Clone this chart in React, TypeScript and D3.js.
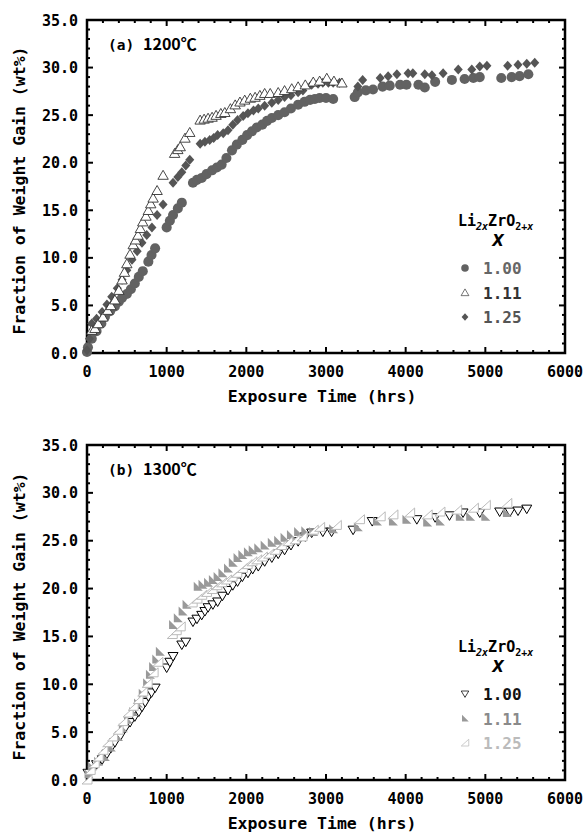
import React from "react";
import * as d3 from "d3";

// ---------- data (hrs, wt%) ----------
const a100: [number, number][] = [[0,0.1],[12,0.6],[60,1.5],[120,2.3],[180,3.1],[225,3.8],[290,4.4],[350,4.9],[400,5.4],[440,5.8],[500,6.2],[550,6.7],[600,7.3],[650,8.0],[700,8.6],[770,9.6],[810,10.3],[855,11.0],[1000,13.2],[1040,13.9],[1080,14.5],[1140,15.2],[1190,15.8],[1330,17.9],[1380,18.2],[1440,18.4],[1500,18.8],[1570,19.2],[1630,19.5],[1690,19.8],[1750,20.5],[1820,21.3],[1880,21.9],[1950,22.4],[2010,22.9],[2070,23.3],[2130,23.7],[2200,24.0],[2260,24.4],[2320,24.7],[2400,25.0],[2480,25.3],[2560,25.7],[2650,26.1],[2730,26.4],[2800,26.6],[2860,26.7],[2920,26.8],[3000,26.8],[3090,26.7],[3360,26.9],[3400,27.4],[3500,27.6],[3590,27.7],[3710,28.0],[3800,28.1],[3930,28.2],[4010,28.2],[4160,28.2],[4240,27.9],[4370,28.5],[4580,28.7],[4740,28.8],[4850,28.9],[4930,29.0],[5200,28.9],[5330,29.0],[5430,29.1],[5540,29.3]];
const a111: [number, number][] = [[60,2.4],[100,2.6],[140,3.1],[200,3.8],[260,4.5],[300,5.0],[350,5.6],[400,6.6],[440,7.7],[470,8.5],[500,9.4],[540,10.4],[580,11.4],[610,11.9],[640,12.4],[670,13.1],[700,13.8],[740,14.4],[770,15.0],[800,15.7],[830,16.3],[880,17.1],[955,18.7],[1100,21.0],[1140,21.4],[1170,21.7],[1230,22.6],[1290,23.2],[1420,24.5],[1470,24.6],[1520,24.7],[1570,24.8],[1620,25.0],[1680,25.2],[1730,25.3],[1800,25.7],[1860,26.1],[1920,26.4],[1980,26.6],[2050,26.8],[2110,26.9],[2170,27.1],[2230,27.3],[2300,27.3],[2400,27.4],[2480,27.6],[2570,27.8],[2650,28.0],[2740,28.2],[2840,28.5],[2920,28.6],[3010,28.9],[3100,28.6],[3200,28.4]];
const a125: [number, number][] = [[0,0.3],[30,1.5],[60,3.1],[120,3.6],[190,4.3],[250,5.1],[310,5.9],[380,6.8],[440,7.7],[500,8.7],[565,9.8],[630,10.7],[690,11.6],[750,12.4],[815,13.2],[880,14.5],[955,15.6],[1080,17.9],[1140,18.5],[1190,19.0],[1240,19.7],[1290,20.3],[1420,22.0],[1480,22.2],[1540,22.4],[1590,22.6],[1640,22.9],[1710,23.1],[1770,23.4],[1830,24.0],[1890,24.5],[1960,24.9],[2020,25.2],[2090,25.5],[2150,25.7],[2230,26.0],[2320,26.3],[2400,26.6],[2480,26.9],[2560,27.1],[2650,27.4],[2710,27.6],[2820,28.2],[2900,28.3],[2960,28.4],[3030,28.4],[3090,28.4],[3170,28.4],[3400,28.0],[3460,28.7],[3680,28.9],[3780,29.1],[3890,29.3],[4030,29.4],[4090,29.4],[4240,29.3],[4330,29.2],[4470,29.4],[4660,29.8],[4830,29.8],[4930,30.1],[5020,30.2],[5280,30.2],[5410,30.3],[5520,30.4],[5620,30.5]];

const b100: [number, number][] = [[12,0.7],[60,1.1],[120,1.6],[190,2.1],[250,2.7],[300,3.3],[350,3.9],[420,4.6],[480,5.4],[540,6.0],[600,6.6],[650,7.1],[690,7.6],[730,8.1],[770,8.7],[810,9.1],[855,9.6],[1000,11.7],[1040,12.3],[1080,12.9],[1190,14.1],[1240,14.4],[1330,16.5],[1380,16.8],[1440,17.2],[1480,17.6],[1520,18.0],[1580,18.3],[1640,18.6],[1700,19.2],[1770,19.8],[1830,20.3],[1890,20.7],[1950,21.2],[2020,21.6],[2080,22.0],[2150,22.3],[2230,22.8],[2320,23.2],[2400,23.6],[2480,24.0],[2560,24.5],[2650,24.9],[2740,25.4],[2820,25.8],[2960,25.9],[3070,25.9],[3340,26.1],[3580,27.0],[4140,27.2],[4370,27.4],[4550,27.6],[4720,27.9],[4930,27.9],[5180,28.0],[5310,28.0],[5410,28.1],[5520,28.3]];
const b111: [number, number][] = [[20,0.6],[60,1.4],[140,1.9],[225,2.4],[300,3.4],[390,4.5],[450,5.4],[515,6.3],[580,7.1],[640,8.0],[700,9.0],[755,10.1],[790,11.0],[830,11.8],[870,12.6],[915,13.4],[1080,16.2],[1140,16.9],[1200,17.6],[1250,18.3],[1390,20.2],[1450,20.4],[1520,20.6],[1580,20.9],[1640,21.2],[1700,21.6],[1770,22.1],[1830,22.7],[1890,23.2],[1950,23.5],[2020,23.8],[2080,24.0],[2150,24.2],[2230,24.5],[2320,24.8],[2400,25.0],[2480,25.3],[2560,25.6],[2650,25.9],[2740,26.0],[2840,25.9],[3090,26.2],[3400,26.4],[3640,27.0],[3840,27.0],[4010,27.2],[4270,26.9],[4430,27.0],[4680,27.5],[4810,27.5],[5000,27.5],[5270,27.9]];
const b125: [number, number][] = [[0,0.0],[40,1.0],[90,1.7],[140,2.4],[200,3.1],[260,3.9],[320,4.5],[390,5.2],[450,6.1],[515,7.0],[580,7.7],[640,8.4],[700,9.2],[755,10.1],[830,11.2],[890,12.3],[1070,15.2],[1120,15.6],[1170,16.0],[1320,18.5],[1380,18.9],[1440,19.3],[1500,19.6],[1570,19.9],[1630,20.3],[1690,20.6],[1750,20.9],[1820,21.2],[1880,21.6],[1950,22.1],[2010,22.5],[2070,22.8],[2130,23.0],[2200,23.3],[2280,23.6],[2360,24.0],[2440,24.5],[2520,24.9],[2610,25.1],[2700,25.4],[2840,26.1],[2920,26.4],[3130,26.6],[3420,27.2],[3680,27.5],[3840,27.7],[4050,27.9],[4270,27.7],[4430,28.0],[4640,28.2],[4850,28.4],[5000,28.7],[5270,28.9]];

const xTicks = [0, 1000, 2000, 3000, 4000, 5000, 6000];
const yTicks = [0, 5, 10, 15, 20, 25, 30, 35];
const legendLabels = ["1.00", "1.11", "1.25"];
const panelLabels = ["(a)", "(b)"];
const panelTemps = ["1200℃", "1300℃"];

// ---------- shapes ----------
const shapes: Record<string, string> = {
  circle: d3.symbol(d3.symbolCircle, 80)() as string,
  diamond: "M0,-5L4.5,0L0,5L-4.5,0Z",
  triUp: "M0,-4.8L5.2,4.2L-5.2,4.2Z",
  triDown: "M0,4.5L5,-4L-5,-4Z",
  rtFill: "M-4,-5L-4,4L5,4Z",
  rtOpen: "M-5,4L5,4L5,-5Z",
};

const MONO = "'DejaVu Sans Mono', monospace";

type Series = { data: [number, number][]; shape: string; fill: string; stroke: string; sw: number; text: string };

function Panel({ top, bottom, series, legend, label, temp, legendY }: { top: number; bottom: number; series: Series[]; legend: Series[]; label: string; temp: string; legendY: number }) {
  const left = 87, right = 565;
  const x = d3.scaleLinear().domain([0, 6000]).range([left, right]);
  const y = d3.scaleLinear().domain([0, 35]).range([bottom, top]);
  const xMinor = d3.range(0, 6001, 200).filter((v) => v % 1000 !== 0);
  const yMinor = d3.range(0, 35.01, 1).filter((v) => v % 5 !== 0);
  const tk = "#000";
  return (
    <g>
      {xTicks.map((v) => (
        <g key={"xt" + v}>
          <line x1={x(v)} x2={x(v)} y1={bottom} y2={bottom - 6} stroke={tk} strokeWidth={2} />
          <line x1={x(v)} x2={x(v)} y1={top} y2={top + 6} stroke={tk} strokeWidth={2} />
          <text x={x(v)} y={bottom + 24} textAnchor="middle" fontFamily={MONO} fontWeight="bold" fontSize={15}>{v}</text>
        </g>
      ))}
      {xMinor.map((v) => (
        <g key={"xm" + v}>
          <line x1={x(v)} x2={x(v)} y1={bottom} y2={bottom - 3} stroke={tk} strokeWidth={2} />
          <line x1={x(v)} x2={x(v)} y1={top} y2={top + 3} stroke={tk} strokeWidth={2} />
        </g>
      ))}
      {yTicks.map((v) => (
        <g key={"yt" + v}>
          <line x1={left} x2={left + 6} y1={y(v)} y2={y(v)} stroke={tk} strokeWidth={2} />
          <line x1={right} x2={right - 6} y1={y(v)} y2={y(v)} stroke={tk} strokeWidth={2} />
          <text x={78} y={y(v) + 5.5} textAnchor="end" fontFamily={MONO} fontWeight="bold" fontSize={15}>{v.toFixed(1)}</text>
        </g>
      ))}
      {yMinor.map((v) => (
        <g key={"ym" + v}>
          <line x1={left} x2={left + 3} y1={y(v)} y2={y(v)} stroke={tk} strokeWidth={2} />
          <line x1={right} x2={right - 3} y1={y(v)} y2={y(v)} stroke={tk} strokeWidth={2} />
        </g>
      ))}
      <rect x={left} y={top} width={right - left} height={bottom - top} fill="none" stroke="#000" strokeWidth={2.5} />

      {series.map((s, i) => (
        <g key={"s" + i}>
          {s.data.map(([t, w], j) => (
            <path key={j} d={shapes[s.shape]} transform={`translate(${x(t)},${y(w)})`} fill={s.fill} stroke={s.stroke} strokeWidth={s.sw} />
          ))}
        </g>
      ))}

      <text x={(left + right) / 2 - 4} y={bottom + 49} textAnchor="middle" fontFamily={MONO} fontWeight="bold" fontSize={16.5}>Exposure Time (hrs)</text>
      <text transform={`translate(25,${(top + bottom) / 2 + 4}) rotate(-90)`} textAnchor="middle" fontFamily={MONO} fontWeight="bold" fontSize={16.5}>Fraction of Weight Gain (wt%)</text>
      <text x={108} y={top + 30} fontFamily={MONO} fontWeight="bold" fontSize={14.5}>{label}</text>
      <text x={143} y={top + 30} fontFamily="'Noto Sans CJK JP', sans-serif" fontWeight="bold" fontSize={16}>{temp}</text>

      <text x={458} y={legendY} fontFamily={MONO} fontWeight="bold" fontSize={15}>
        <tspan>Li</tspan>
        <tspan dy={4} fontSize={10} fontStyle="italic">2x</tspan>
        <tspan dy={-4}>ZrO</tspan>
        <tspan dy={4} fontSize={10}>2+</tspan>
        <tspan fontSize={10} fontStyle="italic">x</tspan>
      </text>
      <text x={498} y={legendY + 20} textAnchor="middle" fontFamily="'DejaVu Sans', sans-serif" fontStyle="italic" fontWeight="bold" fontSize={15}>X</text>
      {legend.map((s, i) => (
        <g key={"l" + i}>
          <path d={shapes[s.shape]} transform={`translate(465,${legendY + 42 + i * 24.5}) scale(0.75)`} fill={s.fill} stroke={s.stroke} strokeWidth={s.sw} />
          <text x={483} y={legendY + 48 + i * 24.5} fontFamily={MONO} fontWeight="bold" fontSize={16} fill={s.text}>{legendLabels[i]}</text>
        </g>
      ))}
    </g>
  );
}

export default function App() {
  const s100: Series = { data: a100, shape: "circle", fill: "#626262", stroke: "none", sw: 0, text: "#666" };
  const s111: Series = { data: a111, shape: "triUp", fill: "#fff", stroke: "#333", sw: 0.9, text: "#333" };
  const s125: Series = { data: a125, shape: "diamond", fill: "#555", stroke: "none", sw: 0, text: "#555" };
  const botSeries: Series[] = [
    { data: b100, shape: "triDown", fill: "#fff", stroke: "#000", sw: 1, text: "#111" },
    { data: b111, shape: "rtFill", fill: "#999", stroke: "none", sw: 0, text: "#8a8a8a" },
    { data: b125, shape: "rtOpen", fill: "#fff", stroke: "#bbb", sw: 1, text: "#bbb" },
  ];
  return (
    <svg width={584} height={834} style={{ position: "absolute", left: 0, top: 0, background: "#fff" }}>
      <Panel top={20} bottom={353} series={[s100, s125, s111]} legend={[s100, s111, s125]} label={panelLabels[0]} temp={panelTemps[0]} legendY={226} />
      <Panel top={445} bottom={780} series={botSeries} legend={botSeries} label={panelLabels[1]} temp={panelTemps[1]} legendY={652} />
    </svg>
  );
}
